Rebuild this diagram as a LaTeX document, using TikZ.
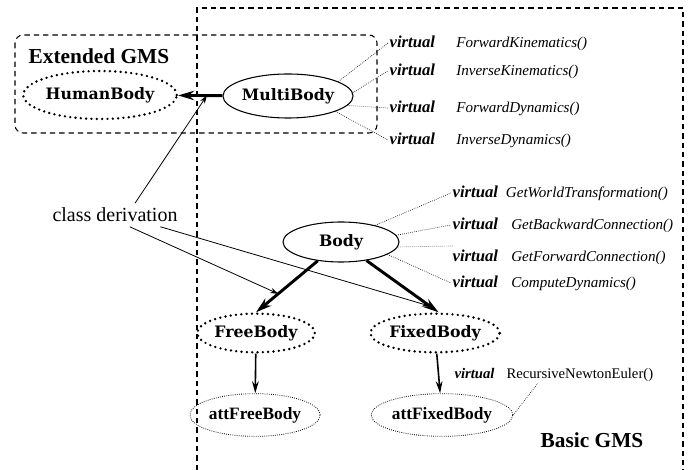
\documentclass[tikz,border=0pt]{standalone}
\usepackage{fontspec}
\setmainfont{Liberation Serif}
\newfontfamily\classfont{DejaVu Serif}
\usetikzlibrary{shapes.geometric,arrows.meta}

\tikzset{
  cls/.style={ellipse,draw,line width=0.8pt,inner sep=0pt,
    font=\classfont\bfseries\fontsize{11.8}{13}\selectfont},
  clsdot/.style={cls,line width=2pt,dash pattern=on 0pt off 4pt,line cap=round},
  attcls/.style={ellipse,draw,line width=0.6pt,densely dotted,inner sep=0pt,
    font=\bfseries\fontsize{13}{15}\selectfont},
  meth/.style={anchor=west,inner sep=1pt,font=\fontsize{11.3}{14}\selectfont},
  derive/.style={line width=2.2pt,-{Stealth[length=12pt,width=7pt]}},
  hint/.style={line width=0.6pt,-{Stealth[length=6pt,width=4pt]}},
  link/.style={line width=0.5pt,densely dotted},
  group/.style={line width=0.8pt,dash pattern=on 4pt off 3pt},
  title/.style={font=\bfseries\fontsize{16}{18}\selectfont}
}
\newcommand{\virt}[2][10pt]{{\bfseries\itshape\fontsize{12.5}{14}\selectfont virtual}\hspace{#1}{\itshape #2}}

\begin{document}
\begin{tikzpicture}[x=0.75pt,y=-0.75pt]
\useasboundingbox (0,0) rectangle (689,470);

% the two GMS frames
\draw[group] (197,470) -- (197,8) -- (683,8) -- (683,470);
\draw[group,rounded corners=6pt] (15,35) rectangle (377,133);
\node[title,anchor=west] (ext) at (24,56) {Extended GMS};
\node[title] (basic) at (592,440) {Basic GMS};

% classes
\node[clsdot,minimum width=100pt,minimum height=36pt] (human) at (100,95) {HumanBody};
\node[cls,minimum width=95pt,minimum height=33pt] (multi) at (288,96) {MultiBody};
\node[cls,minimum width=87pt,minimum height=30pt] (body) at (341,242) {Body};
\node[clsdot,minimum width=86pt,minimum height=29pt] (free) at (256,333) {FreeBody};
\node[clsdot,minimum width=90pt,minimum height=29pt] (fixed) at (435,333) {FixedBody};
\node[attcls,minimum width=75pt,minimum height=32pt] (attfree) at (255,415) {attFreeBody};
\node[attcls,minimum width=80pt,minimum height=32pt] (attfixed) at (442,415) {attFixedBody};

% virtual methods
\node[meth] (fk) at (388,43) {\virt[16pt]{ForwardKinematics()}};
\node[meth] (ik) at (388,71) {\virt[16pt]{InverseKinematics()}};
\node[meth] (fd) at (388,108) {\virt[16pt]{ForwardDynamics()}};
\node[meth] (id) at (388,140) {\virt[16pt]{InverseDynamics()}};
\node[meth] (gwt) at (451,193) {\virt[6pt]{GetWorldTransformation()}};
\node[meth] (gbc) at (451,225) {\virt[10pt]{GetBackwardConnection()}};
\node[meth] (gfc) at (451,257) {\virt[10pt]{GetForwardConnection()}};
\node[meth] (cd) at (451,283) {\virt[10pt]{ComputeDynamics()}};
\node[meth,font=\fontsize{11}{13}\selectfont] (rne) at (453,375) {{\bfseries\itshape virtual}\hspace{9pt}RecursiveNewtonEuler()};
\coordinate (gap) at (453,246);

% derivation arrows
\draw[derive] (multi) -- (human) coordinate[pos=0.35] (d1);
\draw[derive] (body.219) -- (free.north) coordinate[pos=0.64] (d2);
\draw[derive] (body.-36) -- (fixed.80) coordinate[pos=0.88] (d3);
\draw[line width=1.2pt,-{Stealth[length=9pt,width=5pt]}] (free) -- (attfree);
\draw[line width=1.2pt,-{Stealth[length=9pt,width=5pt]}] (fixed) -- (attfixed);

% links to the methods
\draw[link] (multi.16) -- (fk.west);
\draw[link] (multi.3) -- (ik.west);
\draw[link] (multi.-9) -- (fd.west);
\draw[link] (multi.-18) -- (id.west);
\draw[link] (body.26) -- (gwt.west);
\draw[link] (body.7) -- (gbc.west);
\draw[link] (body.-5) -- (gap);
\draw[link] (body.-15) -- (cd.west);
\draw[link] (attfixed.east) -- ([xshift=-12pt]rne.south);

% note
\node[font=\fontsize{15}{17}\selectfont] (note) at (115,215) {class derivation};
\draw[hint] ([xshift=15pt]note.north) -- (d1);
\draw[hint] ([xshift=11pt]note.south) -- (d2);
\draw[hint] ([xshift=34pt]note.south) -- (d3);
\end{tikzpicture}
\end{document}
